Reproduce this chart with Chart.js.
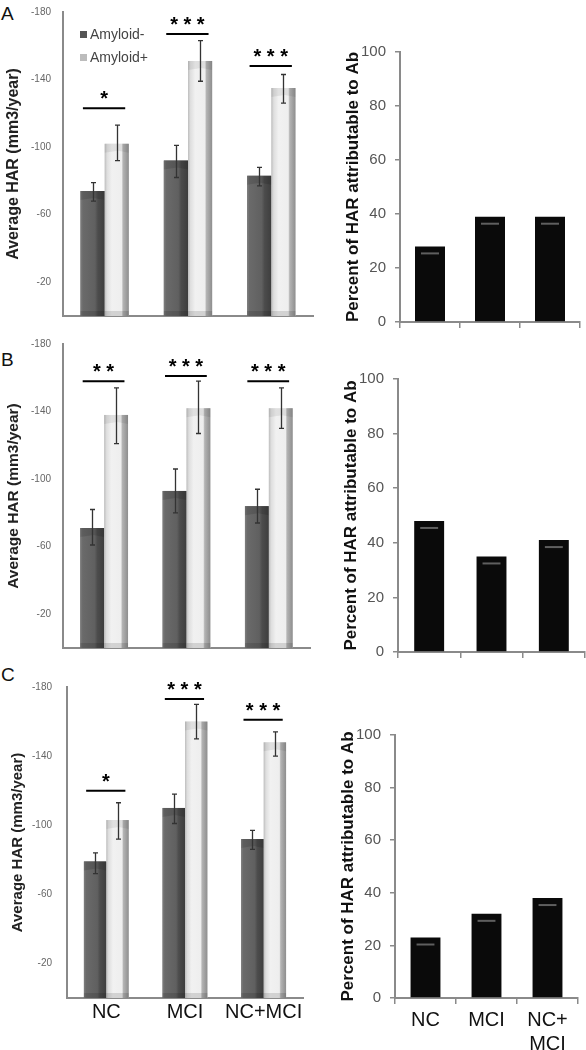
<!DOCTYPE html>
<html>
<head>
<meta charset="utf-8">
<script src="https://cdn.jsdelivr.net/npm/chart.js@4.4.1/dist/chart.umd.min.js"></script>
<style>
body { margin: 0; background: #fff; width: 586px; height: 1050px; position: relative; overflow: hidden; font-family: "Liberation Sans", Arial, sans-serif; }
canvas { position: absolute; }
.panel { position: absolute; left: 1px; font-size: 19px; line-height: 19px; color: #111; }
</style>
</head>
<body>
<div class="panel" style="top:4px">A</div>
<div class="panel" style="top:350px">B</div>
<div class="panel" style="top:665px">C</div>
<canvas id="a1"></canvas>
<canvas id="a2"></canvas>
<canvas id="b1"></canvas>
<canvas id="b2"></canvas>
<canvas id="c1"></canvas>
<canvas id="c2"></canvas>
<script>
const FONT = '"Liberation Sans", Arial, sans-serif';

const groups = ['NC', 'MCI', 'NC+MCI'];
const pctLabels = ['NC', 'MCI', ['NC+', 'MCI']];
const harTicks = [-180, -140, -100, -60, -20];

// panel A
const aNeg = [-74, -92, -83];
const aPos = [-102, -151, -135];
const aNegLo = [-68, -82, -77];
const aNegHi = [-79, -101, -88];
const aPosLo = [-92, -139, -126];
const aPosHi = [-113, -163, -143];
const aSig = [-123, -167, -148];
const aStars = ['*', '***', '***'];
const aPct = [28, 39, 39];

// panel B
const bNeg = [-71, -93, -84];
const bPos = [-138, -142, -142];
const bNegLo = [-61, -80, -74];
const bNegHi = [-82, -106, -94];
const bPosLo = [-121, -127, -130];
const bPosHi = [-154, -158, -154];
const bSig = [-158, -161, -158];
const bStars = ['**', '***', '***'];
const bPct = [48, 35, 41];

// panel C
const cNeg = [-79, -110, -92];
const cPos = [-103, -160, -148];
const cNegLo = [-72, -101, -86];
const cNegHi = [-84, -118, -97];
const cPosLo = [-92, -150, -140];
const cPosHi = [-113, -170, -154];
const cSig = [-120, -173, -161];
const cStars = ['*', '***', '***'];
const cPct = [23, 32, 38];

const darkStops = [[0, '#7e7e7e'], [0.1, '#6a6a6a'], [0.6, '#606060'], [0.72, '#4c4c4c'], [1, '#3e3e3e']];
const lightStops = [[0, '#bdbdbd'], [0.1, '#dedede'], [0.3, '#f1f1f1'], [0.7, '#eeeeee'], [0.76, '#b4b4b4'], [1, '#8e8e8e']];

function place(cv, box) {
    cv.width = box.w;
    cv.height = box.h;
    cv.style.left = box.x + 'px';
    cv.style.top = box.y + 'px';
    cv.style.width = box.w + 'px';
    cv.style.height = box.h + 'px';
}

// shading, error bars, significance lines, legend for the HAR charts
const decor = {
    id: 'decor',
    afterDatasetsDraw(chart, args, opts) {
        const ctx = chart.ctx;
        const ys = chart.scales.y;
        const metas = [chart.getDatasetMeta(0), chart.getDatasetMeta(1)];
        ctx.save();
        metas.forEach((meta, di) => {
            meta.data.forEach(el => {
                const {x, y, base, width} = el.getProps(['x', 'y', 'base', 'width'], true);
                const l = x - width / 2;
                const t = Math.min(y, base);
                const h = Math.abs(base - y);
                const g = ctx.createLinearGradient(l, 0, l + width, 0);
                (di === 0 ? darkStops : lightStops).forEach(s => g.addColorStop(s[0], s[1]));
                ctx.fillStyle = g;
                ctx.fillRect(l, t, width, h);
                // bevelled top
                ctx.fillStyle = di === 0 ? 'rgba(0,0,0,0.12)' : 'rgba(0,0,0,0.07)';
                ctx.beginPath();
                ctx.moveTo(l, t); ctx.lineTo(l + width, t);
                ctx.lineTo(l + width, t + 9); ctx.lineTo(l + width * 0.55, t + 7);
                ctx.lineTo(l, t + 9);
                ctx.closePath();
                ctx.fill();
                // darker foot
                ctx.fillStyle = 'rgba(0,0,0,0.12)';
                ctx.fillRect(l, t + h - 5, width, 5);
            });
        });
        // error bars
        ctx.strokeStyle = '#333';
        ctx.lineWidth = 1.3;
        metas.forEach((meta, di) => {
            meta.data.forEach((el, i) => {
                const y1 = ys.getPixelForValue(opts.lo[di][i]);
                const y2 = ys.getPixelForValue(opts.hi[di][i]);
                const x = Math.round(el.x) + 0.5;
                ctx.beginPath();
                ctx.moveTo(x, y1); ctx.lineTo(x, y2);
                ctx.moveTo(x - 2.5, y1); ctx.lineTo(x + 2.5, y1);
                ctx.moveTo(x - 2.5, y2); ctx.lineTo(x + 2.5, y2);
                ctx.stroke();
            });
        });
        // significance
        ctx.strokeStyle = '#000';
        ctx.lineWidth = 2;
        ctx.fillStyle = '#000';
        ctx.font = 'bold 20px ' + FONT;
        ctx.textAlign = 'center';
        ctx.textBaseline = 'alphabetic';
        opts.sig.forEach((v, i) => {
            const d = metas[0].data[i], p = metas[1].data[i];
            const x1 = d.x - d.width * 0.4, x2 = p.x + p.width * 0.35;
            const yy = ys.getPixelForValue(v);
            ctx.beginPath();
            ctx.moveTo(x1, yy); ctx.lineTo(x2, yy);
            ctx.stroke();
            ctx.fillText(opts.stars[i].split('').join(' '), (x1 + x2) / 2, yy - 3);
        });
        if (opts.legend) {
            const a = chart.chartArea;
            ctx.textAlign = 'left';
            ctx.textBaseline = 'middle';
            ctx.font = '14px ' + FONT;
            chart.data.datasets.forEach((ds, i) => {
                const yy = a.top + 23 + i * 23;
                ctx.fillStyle = i === 0 ? '#555' : '#bcbcbc';
                ctx.fillRect(a.left + 17, yy - 4, 7, 7);
                ctx.fillStyle = '#444';
                ctx.fillText(ds.label, a.left + 27, yy);
            });
        }
        ctx.restore();
    }
};

// glossy stripe on the black percent bars
const gloss = {
    id: 'gloss',
    afterDatasetsDraw(chart) {
        const ctx = chart.ctx;
        ctx.save();
        chart.getDatasetMeta(0).data.forEach(el => {
            const l = el.x - el.width / 2;
            ctx.fillStyle = '#5f5f5f';
            ctx.fillRect(l + 6, el.y + 6, el.width - 12, 2);
        });
        ctx.restore();
    }
};

function harChart(id, p) {
    const cv = document.getElementById(id);
    place(cv, p.box);
    return new Chart(cv, {
        type: 'bar',
        data: {
            labels: groups,
            datasets: [
                {label: 'Amyloid-', data: p.neg, backgroundColor: '#606060', borderWidth: 0, categoryPercentage: p.cat, barPercentage: 1},
                {label: 'Amyloid+', data: p.pos, backgroundColor: '#ececec', borderWidth: 0, categoryPercentage: p.cat, barPercentage: 1}
            ]
        },
        options: {
            responsive: false,
            animation: false,
            devicePixelRatio: 1,
            layout: {padding: {left: 0, bottom: 0, top: p.area.t - p.box.y, right: p.box.x + p.box.w - p.area.r}},
            plugins: {
                legend: {display: false},
                tooltip: {enabled: false},
                decor: {lo: [p.negLo, p.posLo], hi: [p.negHi, p.posHi], sig: p.sig, stars: p.stars, legend: !!p.legend}
            },
            scales: {
                x: {
                    z: 1,
                    grid: {display: false, drawTicks: false},
                    border: {color: '#8a8a8a', width: 2},
                    ticks: {display: !!p.showX, color: '#111', font: {size: 20, family: FONT}, padding: 2, maxRotation: 0, autoSkip: false},
                    afterFit: s => { s.height = p.box.y + p.box.h - p.area.b; }
                },
                y: {
                    min: -180,
                    max: 0,
                    reverse: true,
                    grid: {display: false, drawTicks: false},
                    border: {color: '#8a8a8a', width: 2},
                    afterBuildTicks: s => { s.ticks = harTicks.map(v => ({value: v})); },
                    ticks: {color: '#666', font: {size: 10, family: FONT}, padding: p.tickPad},
                    title: {display: true, text: 'Average HAR (mm3/year)', color: '#222',
                        font: {size: p.titleSize, weight: 'bold', family: FONT}, padding: {top: p.titlePad, bottom: 0}},
                    afterFit: s => { s.width = p.area.l - p.box.x; }
                }
            }
        },
        plugins: [decor]
    });
}

function pctChart(id, p) {
    const cv = document.getElementById(id);
    place(cv, p.box);
    return new Chart(cv, {
        type: 'bar',
        data: {
            labels: pctLabels,
            datasets: [{data: p.pct, backgroundColor: '#0a0a0a', borderWidth: 0, barPercentage: p.bar, categoryPercentage: 1}]
        },
        options: {
            responsive: false,
            animation: false,
            devicePixelRatio: 1,
            layout: {padding: {left: 0, bottom: 0, top: p.area.t - p.box.y, right: p.box.x + p.box.w - p.area.r}},
            plugins: {legend: {display: false}, tooltip: {enabled: false}},
            scales: {
                x: {
                    z: 1,
                    grid: {display: true, offset: true, drawOnChartArea: false, tickLength: 6, color: '#8a8a8a', lineWidth: 1.5},
                    border: {color: '#8a8a8a', width: 2},
                    ticks: {display: !!p.showX, color: '#111', font: {size: 20, family: FONT}, padding: 4, maxRotation: 0, autoSkip: false},
                    afterFit: s => { s.height = p.box.y + p.box.h - p.area.b; }
                },
                y: {
                    min: 0,
                    max: 100,
                    grid: {display: true, drawOnChartArea: false, tickLength: 5, color: '#8a8a8a', lineWidth: 1.5},
                    border: {color: '#8a8a8a', width: 2},
                    ticks: {stepSize: 20, color: '#555', font: {size: 15, family: FONT}, padding: 9},
                    title: {display: true, text: 'Percent of HAR attributable to Ab', color: '#111',
                        font: {size: 17, weight: 'bold', family: FONT}, padding: {top: p.titlePad, bottom: 0}},
                    afterFit: s => { s.width = p.area.l - p.box.x; }
                }
            }
        },
        plugins: [gloss]
    });
}

harChart('a1', {
    box: {x: 0, y: -6, w: 320, h: 340}, area: {l: 63, t: 4, r: 313, b: 322},
    neg: aNeg, pos: aPos, negLo: aNegLo, negHi: aNegHi, posLo: aPosLo, posHi: aPosHi,
    sig: aSig, stars: aStars, cat: 0.58, tickPad: 12, titleSize: 16, titlePad: 4, legend: true
});
pctChart('a2', {
    box: {x: 330, y: 30, w: 256, h: 310}, area: {l: 400, t: 52, r: 580, b: 322},
    pct: aPct, bar: 0.5, titlePad: 13
});

harChart('b1', {
    box: {x: 0, y: 326, w: 320, h: 340}, area: {l: 63, t: 336, r: 310, b: 655},
    neg: bNeg, pos: bPos, negLo: bNegLo, negHi: bNegHi, posLo: bPosLo, posHi: bPosHi,
    sig: bSig, stars: bStars, cat: 0.58, tickPad: 12, titleSize: 15.5, titlePad: 4
});
pctChart('b2', {
    box: {x: 330, y: 360, w: 256, h: 310}, area: {l: 398, t: 379, r: 585, b: 653},
    pct: bPct, bar: 0.48, titlePad: 11
});

harChart('c1', {
    box: {x: 0, y: 666, w: 320, h: 384}, area: {l: 67, t: 676, r: 303, b: 998},
    neg: cNeg, pos: cPos, negLo: cNegLo, negHi: cNegHi, posLo: cPosLo, posHi: cPosHi,
    sig: cSig, stars: cStars, cat: 0.57, tickPad: 15, titleSize: 15, titlePad: 9, showX: true
});
pctChart('c2', {
    box: {x: 330, y: 710, w: 256, h: 340}, area: {l: 395, t: 735, r: 578, b: 998},
    pct: cPct, bar: 0.49, titlePad: 8, showX: true
});
</script>
</body>
</html>
